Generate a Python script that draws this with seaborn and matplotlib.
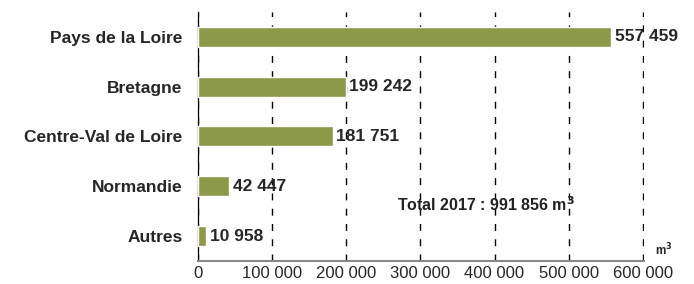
import matplotlib
matplotlib.use("Agg")
import matplotlib.pyplot as plt
import seaborn as sns
import pandas as pd
import numpy as np
from matplotlib.ticker import FuncFormatter, FixedLocator

regions = ["Pays de la Loire", "Bretagne", "Centre-Val de Loire", "Normandie", "Autres"]
volumes = [557459, 199242, 181751, 42447, 10958]
total_label = "Total 2017 : 991 856 m$^3$"

df = pd.DataFrame({"region": regions, "volume": volumes})

sns.set_style("white")
plt.rcParams["font.family"] = ["Liberation Sans", "DejaVu Sans"]
plt.rcParams["mathtext.default"] = "bf"


def fmt_space(v):
    return f"{int(v):,}".replace(",", " ")


fig = plt.figure(figsize=(6.94, 2.84), dpi=100)
ax = fig.add_axes([0.285, 0.081, 0.643, 0.877])

sns.barplot(data=df, x="volume", y="region", order=regions, color="#8C9A47",
            width=0.4, saturation=1, ax=ax, zorder=3)

ax.set_xlim(0, 601500)
ax.set_ylim(len(regions) - 0.5, -0.5)
ax.set_xticks(np.arange(0, 600001, 100000))
ax.xaxis.set_major_formatter(FuncFormatter(lambda v, p: fmt_space(v)))
ax.grid(axis="x", color="black", linestyle=(0, (5, 6)), linewidth=1.0, zorder=0)
ax.grid(axis="y", visible=False)

# category labels at bar centres, tick marks at boundaries
ax.yaxis.set_minor_locator(FixedLocator(np.arange(-0.5, len(regions), 1)))
ax.tick_params(axis="y", which="major", length=0, pad=11, labelsize=12.5)
ax.tick_params(axis="y", which="minor", length=5, color="black", width=0.9, direction="out")
ax.tick_params(axis="x", which="major", length=6, color="#888888", width=0.9,
               direction="inout", labelsize=12, pad=0.5)
for lab in ax.get_yticklabels():
    lab.set_fontweight("bold")

for s in ["top", "right"]:
    ax.spines[s].set_visible(False)
ax.spines["left"].set_color("black")
ax.spines["left"].set_linewidth(0.9)
ax.spines["bottom"].set_color("#888888")
ax.spines["bottom"].set_linewidth(1.5)
ax.set_xlabel("")
ax.set_ylabel("")

for i, v in enumerate(volumes):
    ax.text(v + 5000, i, fmt_space(v), va="center", ha="left",
            fontsize=12.5, fontweight="bold", zorder=4)

ax.text(0.645, 0.228, total_label, transform=ax.transAxes, ha="center", va="center",
        fontsize=11.5, fontweight="bold", color="#222222")
ax.text(1.045, 0.045, "m$^3$", transform=ax.transAxes, ha="center", va="center",
        fontsize=8.5, fontweight="bold")

fig.savefig("out.png", dpi=100)
